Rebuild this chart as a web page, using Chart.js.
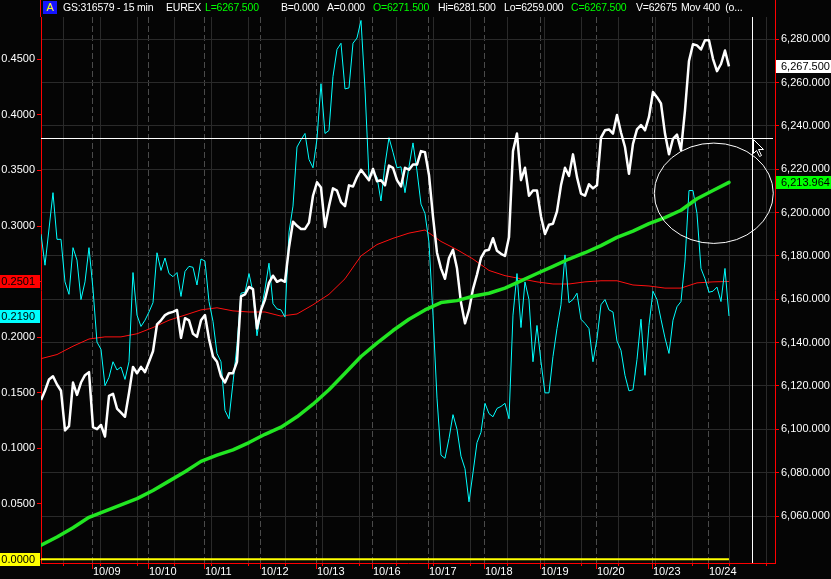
<!DOCTYPE html>
<html>
<head>
<meta charset="utf-8">
<title>GS:316579 - 15 min</title>
<script src="https://cdn.jsdelivr.net/npm/chart.js"></script>
<style>
  html, body { margin: 0; padding: 0; background: #050505; }
  #wrap { position: relative; width: 831px; height: 579px; overflow: hidden; background: #050505;
          font-family: "Liberation Sans", Arial, sans-serif; }
  #chart { position: absolute; left: 0; top: 0; }
  .hdr { position: absolute; top: 1px; font-size: 10.5px; line-height: 13px; color: #fff; white-space: pre; letter-spacing: -0.2px; }
  .g { color: #00ff00; }
  #badge { position: absolute; left: 43px; top: 1px; width: 14px; height: 13px; background: #1414ff;
           color: #ffff00; font-size: 11px; line-height: 13px; text-align: center; }
</style>
</head>
<body>
<div id="wrap">
    <canvas id="chart" width="831" height="579"></canvas>

    <!-- HEADER -->
    <div id="badge">A</div>
    <span class="hdr" style="left:63px">GS:316579 - 15 min</span>
    <span class="hdr" style="left:166px">EUREX</span>
    <span class="hdr g" style="left:205px">L=6267.500</span>
    <span class="hdr" style="left:281px">B=0.000</span>
    <span class="hdr" style="left:327px">A=0.000</span>
    <span class="hdr g" style="left:373px">O=6271.500</span>
    <span class="hdr" style="left:438px">Hi=6281.500</span>
    <span class="hdr" style="left:504px">Lo=6259.000</span>
    <span class="hdr g" style="left:571px">C=6267.500</span>
    <span class="hdr" style="left:636px">V=62675</span>
    <span class="hdr" style="left:681px">Mov 400  (o...</span>
</div>

<script>

/* DATA */
const dates = ['10/09', '10/10', '10/11', '10/12', '10/13', '10/16',
               '10/17', '10/18', '10/19', '10/20', '10/23', '10/24'];

// price (right axis), one sample per 1/14 day
const price = [
    6113.5, 6117.8, 6123.0, 6124.5, 6120.7, 6117.8, 6099.5, 6101.5, 6121.6, 6115.9,
    6121.6, 6125.0, 6126.4, 6101.0, 6100.1, 6102.0, 6096.7, 6115.4, 6116.4, 6109.6,
    6107.7, 6105.8, 6116.8, 6128.8, 6125.9, 6128.8, 6126.4, 6131.2, 6136.0, 6148.4,
    6150.3, 6152.7, 6153.7, 6154.2, 6155.1, 6142.2, 6151.3, 6150.3, 6144.1, 6142.7,
    6150.3, 6152.7, 6141.7, 6133.6, 6131.2, 6124.5, 6121.6, 6125.9, 6125.9, 6131.2,
    6161.4, 6162.3, 6165.7, 6164.7, 6146.5, 6155.1, 6159.9, 6167.6, 6170.9, 6168.1,
    6169.0, 6168.1, 6183.9, 6195.8, 6193.9, 6192.5, 6192.5, 6195.4, 6207.8, 6214.0,
    6211.6, 6193.4, 6203.0, 6211.2, 6210.2, 6204.9, 6203.0, 6212.6, 6212.1, 6216.4,
    6219.8, 6217.4, 6215.0, 6220.2, 6214.5, 6215.0, 6212.6, 6221.7, 6220.7, 6215.0,
    6212.1, 6220.7, 6219.8, 6222.2, 6222.2, 6228.4, 6227.9, 6217.4, 6198.2, 6181.5,
    6174.3, 6169.5, 6179.1, 6182.9, 6174.3, 6158.5, 6148.9, 6155.1, 6164.7, 6171.4,
    6179.1, 6182.4, 6182.9, 6188.2, 6182.4, 6181.0, 6180.0, 6188.6, 6228.4, 6236.5,
    6215.0, 6220.7, 6207.8, 6210.2, 6210.2, 6198.2, 6190.1, 6194.4, 6194.9, 6200.6,
    6212.6, 6220.7, 6216.9, 6226.9, 6216.4, 6208.8, 6207.8, 6213.1, 6211.2, 6212.6,
    6234.6, 6238.0, 6238.4, 6236.5, 6245.1, 6237.0, 6230.3, 6217.9, 6231.7, 6238.4,
    6240.4, 6238.0, 6244.2, 6255.7, 6253.3, 6250.4, 6236.5, 6226.9, 6234.1, 6236.0,
    6228.9, 6247.1, 6270.0, 6277.7, 6277.2, 6275.3, 6279.6, 6279.6, 6271.0, 6265.3,
    6268.6, 6274.8, 6267.5
];

// oscillator (left axis, cyan)
const osc = [
    0.2927, 0.2647, 0.2973, 0.3300, 0.2880, 0.2880, 0.2497, 0.2385, 0.2805, 0.2693,
    0.2338, 0.2497, 0.2805, 0.2432, 0.1955, 0.1890, 0.1563, 0.1638, 0.1778, 0.1704,
    0.1731, 0.1619, 0.1778, 0.2581, 0.2198, 0.2096, 0.2152, 0.2226, 0.2310, 0.2759,
    0.2600, 0.2712, 0.2572, 0.2544, 0.2581, 0.2366, 0.2591, 0.2637, 0.2628, 0.2469,
    0.2703, 0.2684, 0.2320, 0.2142, 0.1853, 0.1778, 0.1339, 0.1265, 0.1591, 0.1927,
    0.2395, 0.2404, 0.2572, 0.2404, 0.2012, 0.2236, 0.2432, 0.2665, 0.2301, 0.2254,
    0.2245, 0.2180, 0.2945, 0.3179, 0.3711, 0.3776, 0.3833, 0.3599, 0.3524, 0.3786,
    0.4281, 0.3833, 0.3860, 0.4346, 0.4589, 0.4645, 0.4234, 0.4243, 0.4645, 0.4692,
    0.4850, 0.4234, 0.3440, 0.3487, 0.3440, 0.3225, 0.3552, 0.3795, 0.3664, 0.3524,
    0.3533, 0.3300, 0.3533, 0.3748, 0.3496, 0.3197, 0.3113, 0.2852, 0.2198, 0.1451,
    0.0937, 0.0909, 0.1087, 0.1302, 0.1171, 0.0928, 0.0816, 0.0517, 0.0779, 0.1050,
    0.1143, 0.1404, 0.1311, 0.1283, 0.1358, 0.1376, 0.1404, 0.1265, 0.2198, 0.2572,
    0.2086, 0.2497, 0.2338, 0.1778, 0.2105, 0.1778, 0.1498, 0.1498, 0.1825, 0.2077,
    0.2291, 0.2740, 0.2310, 0.2338, 0.2395, 0.2161, 0.2123, 0.2077, 0.1778, 0.1983,
    0.2291, 0.2338, 0.2245, 0.2226, 0.1965, 0.1881, 0.1656, 0.1516, 0.1526, 0.1797,
    0.2161, 0.1656, 0.2105, 0.2413, 0.2338, 0.2161, 0.1993, 0.1853, 0.2152, 0.2273,
    0.2320, 0.2684, 0.3319, 0.3319, 0.3113, 0.2618, 0.2525, 0.2404, 0.2413, 0.2450,
    0.2320, 0.2618, 0.2190
];

// smoothed oscillator (left axis, red), one sample per 4/14 day
const oscAvg = [
    0.1806, 0.1843, 0.1918, 0.1983, 0.2002, 0.2002, 0.2030, 0.2086, 0.2152, 0.2198,
    0.2245, 0.2264, 0.2236, 0.2226, 0.2226, 0.2189, 0.2208, 0.2291, 0.2385, 0.2525,
    0.2731, 0.2833, 0.2889, 0.2936, 0.2964, 0.2861, 0.2787, 0.2703, 0.2600, 0.2553,
    0.2525, 0.2497, 0.2478, 0.2478, 0.2497, 0.2507, 0.2507, 0.2469, 0.2460, 0.2441,
    0.2441, 0.2488, 0.2497, 0.2501
];

// Mov 400 of price (right axis, green), one sample per 4/14 day
const mov400 = [
    6046.5, 6050.3, 6054.6, 6059.4, 6062.3, 6065.1, 6068.0, 6071.8, 6076.1, 6080.4,
    6085.2, 6088.1, 6090.5, 6093.9, 6097.7, 6101.0, 6105.8, 6111.6, 6118.3, 6125.9,
    6133.6, 6139.8, 6145.6, 6150.8, 6155.1, 6158.5, 6159.4, 6161.4, 6162.8, 6165.2,
    6168.5, 6171.9, 6175.2, 6178.6, 6181.5, 6184.8, 6188.6, 6191.5, 6194.9, 6197.7,
    6201.1, 6206.4, 6210.2, 6213.964
];

const leftTicks = [0, 0.05, 0.10, 0.15, 0.20, 0.25, 0.30, 0.35, 0.40, 0.45];
const rightTicks = [6060, 6080, 6100, 6120, 6140, 6160, 6180, 6200, 6220, 6240, 6260, 6280];

const trendLevel = 6234.6;   // drawn horizontal line
const cursorDay = 11.76;     // crosshair position

/* x axis in trading days, 0 = 10/09 open */
const step = 1 / 14;
const start = -13 / 14;
const xMin = start, xMax = 12.179;
const pts = (vals, every) => vals.map((v, i) => ({ x: start + i * every * step, y: v }));

const minorGrid = [];
for (let v = -0.5304; v < xMax; v += 37 / 56) minorGrid.push(v);

const RED = '#ff0000';
const FONT = { family: '"Liberation Sans", Arial, sans-serif', size: 11 };

/* OVERLAY: drawn lines, ellipse, cursor and value boxes */
const overlay = {
    id: 'overlay',
    afterDraw(chart) {
        const { ctx, chartArea: a, scales } = chart;
        const { x, y, y2 } = scales;
        ctx.save();

        // axis lines continue through the header strip
        ctx.strokeStyle = RED;
        ctx.lineWidth = 1;
        ctx.beginPath();
        ctx.moveTo(a.left - 0.5, 0); ctx.lineTo(a.left - 0.5, a.top);
        ctx.moveTo(a.right + 0.5, 0); ctx.lineTo(a.right + 0.5, a.top);
        ctx.stroke();

        // horizontal trend line + crosshair
        const ty = Math.round(y2.getPixelForValue(trendLevel)) + 0.5;
        const cx = Math.round(x.getPixelForValue(cursorDay)) + 0.5;
        ctx.strokeStyle = '#ffffff';
        ctx.beginPath();
        ctx.moveTo(a.left, ty); ctx.lineTo(a.right - 2, ty);
        ctx.moveTo(cx, a.top); ctx.lineTo(cx, a.bottom);
        ctx.stroke();

        // ellipse around the last bars
        const ex1 = x.getPixelForValue(10.023), ex2 = x.getPixelForValue(12.148);
        const ey1 = y2.getPixelForValue(6232.1), ey2 = y2.getPixelForValue(6185.8);
        ctx.beginPath();
        ctx.ellipse((ex1 + ex2) / 2, (ey1 + ey2) / 2, (ex2 - ex1) / 2, (ey2 - ey1) / 2, 0, 0, Math.PI * 2);
        ctx.stroke();

        // mouse pointer
        const px = cx + 1, py = ty + 1;
        ctx.beginPath();
        ctx.moveTo(px, py);
        ctx.lineTo(px, py + 14);
        ctx.lineTo(px + 3, py + 11);
        ctx.lineTo(px + 6, py + 17);
        ctx.lineTo(px + 8, py + 16);
        ctx.lineTo(px + 5, py + 10);
        ctx.lineTo(px + 10, py + 10);
        ctx.closePath();
        ctx.fillStyle = '#000000';
        ctx.fill();
        ctx.stroke();

        // value boxes
        ctx.font = '11px "Liberation Sans", Arial, sans-serif';
        ctx.textBaseline = 'middle';
        const box = (scale, value, text, bg, left) => {
            const yy = Math.round(scale.getPixelForValue(value));
            ctx.fillStyle = bg;
            if (left) {
                ctx.fillRect(0, yy - 6, a.left - 1, 13);
                ctx.fillStyle = '#000000';
                ctx.textAlign = 'right';
                ctx.fillText(text, a.left - 6, yy + 1);
            } else {
                ctx.fillRect(a.right + 1, yy - 6, chart.width - a.right, 13);
                ctx.fillStyle = '#000000';
                ctx.textAlign = 'left';
                ctx.fillText(text, a.right + 6, yy + 1);
            }
        };
        const fmt = v => v.toLocaleString('en-US', { minimumFractionDigits: 3, maximumFractionDigits: 3 });
        const lastAvg = oscAvg[oscAvg.length - 1], lastOsc = osc[osc.length - 1];
        box(y, lastAvg, lastAvg.toFixed(4), '#ff0000', true);
        box(y, lastOsc, lastOsc.toFixed(4), '#00ffff', true);
        box(y, 0, (0).toFixed(4), '#ffff00', true);
        box(y2, price[price.length - 1], fmt(price[price.length - 1]), '#ffffff', false);
        box(y2, mov400[mov400.length - 1], fmt(mov400[mov400.length - 1]), '#00ff00', false);

        ctx.restore();
    }
};

/* CHART */
new Chart(document.getElementById('chart'), {
    type: 'line',
    data: {
        datasets: [
            { data: pts(mov400, 4), yAxisID: 'y2', borderColor: '#22e622', borderWidth: 3.5, borderCapStyle: 'round' },
            { data: pts(price, 1), yAxisID: 'y2', borderColor: '#ffffff', borderWidth: 2.5 },
            { data: pts(osc, 1), yAxisID: 'y', borderColor: '#00ffff', borderWidth: 1 },
            { data: pts(oscAvg, 4), yAxisID: 'y', borderColor: '#ff1010', borderWidth: 1 },
            { data: pts(price.map(() => 0), 1), yAxisID: 'y', borderColor: '#ffff00', borderWidth: 2 }
        ]
    },
    options: {
        responsive: false,
        animation: false,
        devicePixelRatio: 1,
        layout: { padding: { top: 17, left: 0, right: 0, bottom: 0 } },
        elements: { point: { radius: 0 }, line: { tension: 0, borderJoinStyle: 'round' } },
        plugins: { legend: { display: false }, tooltip: { enabled: false } },
        scales: {
            x2: {
                type: 'linear', position: 'bottom', weight: -1, min: xMin, max: xMax,
                afterBuildTicks: s => { s.ticks = minorGrid.map(v => ({ value: v })); },
                afterFit: s => { s.height = 0; },
                ticks: { display: false },
                border: { display: false },
                grid: { color: '#2a2a2a', tickColor: RED, tickLength: 3 }
            },
            x: {
                type: 'linear', position: 'bottom', min: xMin, max: xMax,
                afterBuildTicks: s => { s.ticks = dates.map((d, i) => ({ value: i })); },
                afterFit: s => { s.height = 16; },
                ticks: {
                    color: '#ffffff', font: FONT, align: 'start', padding: -4,
                    autoSkip: false, maxRotation: 0,
                    callback: (v, i) => dates[i]
                },
                border: { color: RED, width: 1, dash: [6, 3] },
                grid: { color: '#4a4a4a', tickColor: RED, tickLength: 6 }
            },
            y: {
                type: 'linear', position: 'left', min: -0.00333, max: 0.48812,
                afterBuildTicks: s => { s.ticks = leftTicks.map(v => ({ value: v })); },
                afterFit: s => { s.width = 41; },
                ticks: { color: '#ffffff', font: FONT, padding: 2, callback: v => v.toFixed(4) },
                border: { color: RED, width: 1 },
                grid: { drawOnChartArea: false, color: RED, tickColor: RED, tickLength: 4 }
            },
            y2: {
                type: 'linear', position: 'right', min: 6038.31, max: 6290.29,
                afterBuildTicks: s => { s.ticks = rightTicks.map(v => ({ value: v })); },
                afterFit: s => { s.width = 56; },
                ticks: {
                    color: '#ffffff', font: FONT, padding: 2,
                    callback: v => v.toLocaleString('en-US', { minimumFractionDigits: 3, maximumFractionDigits: 3 })
                },
                border: { color: RED, width: 1 },
                grid: { color: '#2a2a2a', tickColor: RED, tickLength: 4 }
            }
        }
    },
    plugins: [overlay]
});

</script>
</body>
</html>
